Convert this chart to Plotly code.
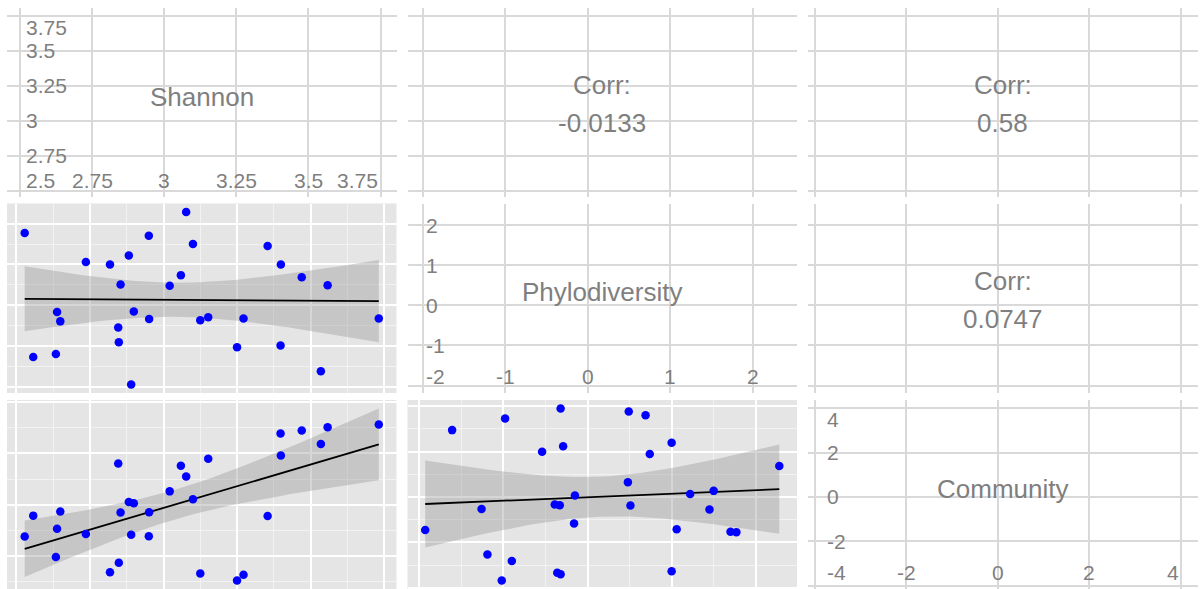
import numpy as np
import plotly.graph_objects as go

# ---- data -------------------------------------------------------------
variables = ["Shannon", "Phylodiversity", "Community"]

shannon = [2.528, 2.557, 2.634, 2.638, 2.649, 2.736, 2.818, 2.846, 2.848, 2.854,
           2.882, 2.890, 2.899, 2.950, 2.951, 3.021, 3.059, 3.077, 3.100, 3.125,
           3.152, 3.250, 3.272, 3.354, 3.398, 3.399, 3.470, 3.535, 3.558, 3.732]
phylodiversity = [1.77, -1.26, -1.19, -0.16, -0.39, 1.06, 1.00, -0.54, -0.90, 0.51,
                  1.22, -1.93, -0.15, 1.70, -0.33, 0.48, 0.74, 2.28, 1.50, -0.36,
                  -0.29, -1.02, -0.32, 1.45, -0.98, 1.00, 0.69, -1.61, 0.49, -0.32]
community = [-1.55, -0.53, -2.54, -1.17, -0.33, -1.42, -3.28, 2.00, -2.82, -0.38,
             0.13, -1.46, 0.07, -1.53, -0.36, 0.65, 1.90, 1.37, 0.27, -3.34,
             2.24, -3.68, -3.41, -0.55, 3.46, 2.39, 3.61, 2.95, 3.77, 3.90]

# correlation labels for the upper triangle (row, col)
corr_pairs = [(0, 1), (0, 2), (1, 2)]
corr_values = ["-0.0133", "0.58", "0.0747"]

# axis breaks printed inside the diagonal panels
shannon_breaks = [2.5, 2.75, 3.0, 3.25, 3.5, 3.75]
shannon_break_labels = ["2.5", "2.75", "3", "3.25", "3.5", "3.75"]
phylo_breaks = [-2, -1, 0, 1, 2]
phylo_break_labels = ["-2", "-1", "0", "1", "2"]
community_breaks = [-4, -2, 0, 2, 4]
community_break_labels = ["-4", "-2", "0", "2", "4"]

columns = [np.array(shannon), np.array(phylodiversity), np.array(community)]
breaks = [shannon_breaks, phylo_breaks, community_breaks]
break_labels = [shannon_break_labels, phylo_break_labels, community_break_labels]

# ---- styling / layout -------------------------------------------------
W, H = 1201, 589
col_px = [(7, 396.5), (407.5, 797), (808, 1197.5)]
row_px = [(8, 197), (203.5, 393), (400, 589)]
FONT = "Liberation Sans, Arial, sans-serif"
TEXT_GREY = "#7F7F7F"
GRID_GREY = "#D9D9D9"
PANEL_GREY = "#E5E5E5"
MINOR_GRID = "#F2F2F2"

# major / minor grid spacing of the scatter panels (x, y)
lower_dtick = {(1, 0): (0.25, 1.0), (2, 0): (0.25, 2.5), (2, 1): (1.0, 2.0)}
diag_dtick = [0.25, 1.0, 2.0]


def ax_name(kind, idx):
    return kind if idx == 1 else f"{kind}{idx}"


def diag_limits(v):
    r = v.max() - v.min()
    lo, hi = v.min() - 0.01 * r, v.max() + 0.01 * r
    pad = 0.05 * (hi - lo)
    return (lo, hi), [lo - pad, hi + pad]


def padded(lo, hi):
    pad = 0.05 * (hi - lo)
    return [lo - pad, hi + pad]


def lm_band(x, y, npts=80):
    n = len(x)
    b1, b0 = np.polyfit(x, y, 1)
    xs = np.linspace(x.min(), x.max(), npts)
    fit = b0 + b1 * xs
    resid = y - (b0 + b1 * x)
    s = np.sqrt((resid ** 2).sum() / (n - 2))
    se = s * np.sqrt(1.0 / n + (xs - x.mean()) ** 2 / ((x - x.mean()) ** 2).sum())
    t = 2.0484  # 97.5% Student-t quantile for n - 2 = 28 degrees of freedom
    return xs, fit, fit - t * se, fit + t * se


fig = go.Figure()
layout = {}
annotations = []
shapes = []

diag_info = [diag_limits(v) for v in columns]

for r in range(3):
    for c in range(3):
        idx = r * 3 + c + 1
        xa, ya = ax_name("xaxis", idx), ax_name("yaxis", idx)
        xr, yr = ax_name("x", idx), ax_name("y", idx)
        x0, x1 = col_px[c]
        y0, y1 = row_px[r]
        xdom = [x0 / W, x1 / W]
        ydom = [1 - y1 / H, 1 - y0 / H]
        common = dict(showticklabels=False, ticks="", zeroline=False,
                      showline=False, fixedrange=True)

        if r > c:
            # scatter panel with linear fit and confidence band
            x, y = columns[c], columns[r]
            xs, fit, lo, hi = lm_band(x, y)
            xrange_ = padded(x.min(), x.max())
            yrange_ = padded(min(y.min(), lo.min()), max(y.max(), hi.max()))
            dx, dy = lower_dtick[(r, c)]
            layout[xa] = dict(domain=xdom, range=xrange_, anchor=yr, tick0=0, dtick=dx,
                              showgrid=True, gridcolor="white", gridwidth=2,
                              minor=dict(tick0=0, dtick=dx / 2, showgrid=True,
                                         gridcolor=MINOR_GRID, gridwidth=1),
                              **common)
            layout[ya] = dict(domain=ydom, range=yrange_, anchor=xr, tick0=0, dtick=dy,
                              showgrid=True, gridcolor="white", gridwidth=2,
                              minor=dict(tick0=0, dtick=dy / 2, showgrid=True,
                                         gridcolor=MINOR_GRID, gridwidth=1),
                              **common)
            shapes.append(dict(type="rect", xref=f"{xr} domain", yref=f"{yr} domain",
                               x0=0, x1=1, y0=0, y1=1, fillcolor=PANEL_GREY,
                               line=dict(width=0), layer="below"))
            fig.add_trace(go.Scatter(
                x=np.concatenate([xs, xs[::-1]]), y=np.concatenate([hi, lo[::-1]]),
                fill="toself", fillcolor="rgba(153,153,153,0.4)", mode="lines",
                line=dict(width=0), hoverinfo="skip", xaxis=xr, yaxis=yr))
            fig.add_trace(go.Scatter(x=xs, y=fit, mode="lines",
                                     line=dict(color="black", width=1.8),
                                     hoverinfo="skip", xaxis=xr, yaxis=yr))
            fig.add_trace(go.Scatter(x=x, y=y, mode="markers",
                                     marker=dict(color="#0000FF", size=8.5),
                                     xaxis=xr, yaxis=yr))
        else:
            # diagonal (variable name + axis) and upper (correlation) panels
            (xlo, xhi), xrange_ = diag_info[c]
            (ylo, yhi), yrange_ = diag_info[r]
            layout[xa] = dict(domain=xdom, range=xrange_, anchor=yr, tick0=0,
                              dtick=diag_dtick[c], showgrid=True, gridcolor=GRID_GREY,
                              gridwidth=1.5, **common)
            layout[ya] = dict(domain=ydom, range=yrange_, anchor=xr, tick0=0,
                              dtick=diag_dtick[r], showgrid=True, gridcolor=GRID_GREY,
                              gridwidth=1.5, **common)
            # invisible trace so the subplot is drawn
            fig.add_trace(go.Scatter(x=[xrange_[0]], y=[yrange_[0]], mode="markers",
                                     marker=dict(opacity=0), hoverinfo="skip",
                                     xaxis=xr, yaxis=yr))
            if r == c:
                annotations.append(dict(text=variables[r], xref=f"{xr} domain",
                                        yref=f"{yr} domain", x=0.5, y=0.55,
                                        yshift=-3.5, showarrow=False,
                                        font=dict(family=FONT, size=26, color=TEXT_GREY)))
                b, labs = breaks[r], break_labels[r]
                # y labels along the left, x labels along the bottom
                pos = [(b[0], yv, lab) for yv, lab in zip(b[1:], labs[1:])]
                pos += [(xv, b[0], lab) for xv, lab in zip(b, labs)]
                for xv, yv, lab in pos:
                    xanchor, yanchor, ysh = "center", "middle", 0
                    if xv < xlo:
                        xv, xanchor = xlo, "left"
                    elif xv > xhi:
                        xv, xanchor = xhi, "right"
                    if yv < ylo:
                        yv, yanchor, ysh = ylo, "bottom", -5
                    elif yv > yhi:
                        yv, yanchor, ysh = yhi, "top", 2
                    annotations.append(dict(text=lab, x=xv, y=yv, xref=xr, yref=yr,
                                            xanchor=xanchor, yanchor=yanchor,
                                            yshift=ysh, showarrow=False, borderpad=0,
                                            font=dict(family=FONT, size=21,
                                                      color=TEXT_GREY)))
            else:
                val = corr_values[corr_pairs.index((r, c))]
                for txt, ysh in (("Corr:", 17), (val, -21)):
                    annotations.append(dict(text=txt, xref=f"{xr} domain",
                                            yref=f"{yr} domain", x=0.5, y=0.5,
                                            yshift=ysh, showarrow=False,
                                            font=dict(family=FONT, size=26,
                                                      color=TEXT_GREY)))

fig.update_layout(width=W, height=H, margin=dict(l=0, r=0, t=0, b=0),
                  paper_bgcolor="white", plot_bgcolor="white", showlegend=False,
                  annotations=annotations, shapes=shapes, **layout)
fig.write_html("out.html")
